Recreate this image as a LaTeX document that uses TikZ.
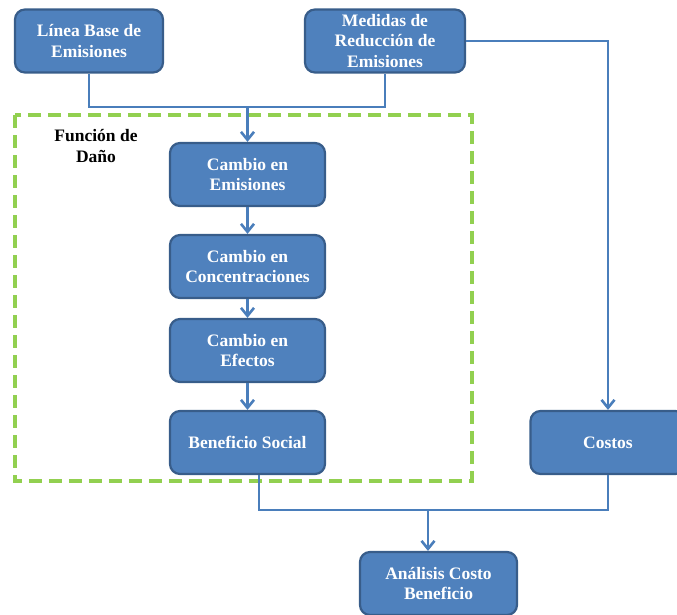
\documentclass[tikz,border=0pt]{standalone}
\usepackage{fontspec}
\setmainfont{Liberation Serif}
\usetikzlibrary{arrows.meta}
\definecolor{boxfill}{HTML}{4F81BD}
\definecolor{boxline}{HTML}{385D8A}
\definecolor{conn}{HTML}{4A7EBB}
\definecolor{dashgreen}{HTML}{92D050}
\tikzset{
  blockbox/.style={draw=boxline, line width=2.2pt, fill=boxfill, rounded corners=10pt,
    text=white, font=\bfseries\fontsize{17.5}{20.5}\selectfont, align=center,
    minimum width=155pt, minimum height=63pt, inner sep=1pt},
  connector/.style={draw=conn, line width=2.6pt},
  arrowconn/.style={connector, -{Straight Barb[length=8pt,width=13pt,line width=2.6pt]}},
  labeltext/.style={font=\bfseries\fontsize{17.5}{21}\selectfont, align=center, text=black}
}
\begin{document}
\begin{tikzpicture}[x=1pt,y=-1pt]
\useasboundingbox (0,0) rectangle (677,614);
% dashed region
\draw[dashgreen, line width=3.2pt, dash pattern=on 13pt off 7pt] (15,115) rectangle (472,481);
\node[labeltext] (fd) at (96,146) {Función de\\Daño};
% boxes
\node[blockbox, minimum width=148pt] (lb) at (89,41) {Línea Base de\\Emisiones};
\node[blockbox, minimum width=160pt] (md) at (385,41) {Medidas de\\Reducción de\\Emisiones};
\node[blockbox] (ce) at (247.5,174.5) {Cambio en\\Emisiones};
\node[blockbox] (cc) at (247.5,266.5) {Cambio en\\Concentraciones};
\node[blockbox] (cf) at (247.5,350.5) {Cambio en\\Efectos};
\node[blockbox] (bs) at (247.5,442.5) {Beneficio Social};
\node[blockbox] (co) at (608,442.5) {Costos};
\node[blockbox, minimum width=157pt] (ac) at (438.5,583.5) {Análisis Costo\\Beneficio};
% junction coordinates
\coordinate (j1) at (247.5,107);
\coordinate (j2) at (428,510);
% connectors
\draw[connector] (lb.south) |- (j1) -| (md.south);
\draw[arrowconn] (j1) -- (ce.north);
\draw[arrowconn] (md.east) -| (co.north);
\draw[arrowconn] (ce.south) -- (cc.north);
\draw[arrowconn] (cc.south) -- (cf.north);
\draw[arrowconn] (cf.south) -- (bs.north);
\draw[connector] ([xshift=11.5pt]bs.south) |- (j2) -| (co.south);
\draw[arrowconn] (j2) -- (j2 |- ac.north);
\end{tikzpicture}
\end{document}
